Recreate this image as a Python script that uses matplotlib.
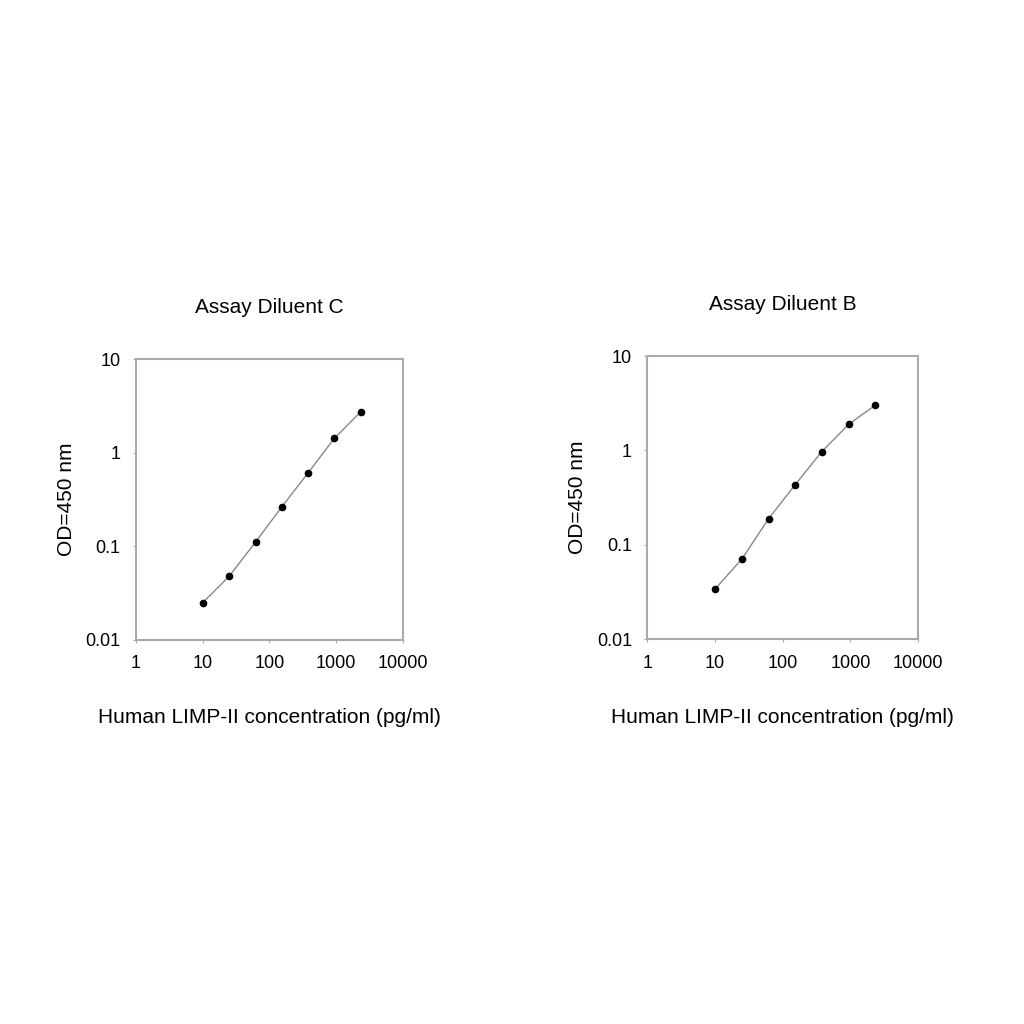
import matplotlib.pyplot as plt

plt.rcParams['font.family'] = ['Liberation Sans', 'DejaVu Sans']

# concentrations (pg/ml) shared by both standard curves
conc = [10, 25, 62, 153, 375, 940, 2340]

# OD 450 nm readings
od_diluent_c = [0.025, 0.048, 0.111, 0.263, 0.60, 1.42, 2.73]
od_diluent_b = [0.034, 0.071, 0.19, 0.434, 0.97, 1.89, 3.03]

titles = ['Assay Diluent C', 'Assay Diluent B']
xlabel = 'Human LIMP-II concentration (pg/ml)'
ylabel = 'OD=450 nm'
xticks = [1, 10, 100, 1000, 10000]
yticks = [0.01, 0.1, 1, 10]

fig = plt.figure(figsize=(10.24, 10.24), dpi=100)
boxes = [[0.1328, 0.375, 0.2605, 0.2744],
         [0.6321, 0.3757, 0.2646, 0.2766]]

for box, title, od in zip(boxes, titles, [od_diluent_c, od_diluent_b]):
    ax = fig.add_axes(box)
    ax.set_xscale('log')
    ax.set_yscale('log')
    ax.plot(conc, od, color='#888888', lw=1.0, zorder=2)
    ax.plot(conc, od, 'o', color='black', ms=4.5, zorder=3)
    ax.set_xlim(1, 10000)
    ax.set_ylim(0.01, 10)
    ax.set_xticks(xticks)
    ax.set_xticklabels([f'{t:g}' for t in xticks])
    ax.set_yticks(yticks)
    ax.set_yticklabels([f'{t:g}' for t in yticks])
    ax.minorticks_off()
    for s in ax.spines.values():
        s.set_color('#aaaaaa')
        s.set_linewidth(1.5)
    ax.tick_params(length=2, color='#aaaaaa', labelsize=13, pad=9)
    ax.set_title(title, fontsize=15, pad=33)
    ax.set_xlabel(xlabel, fontsize=15, labelpad=26)
    ax.set_ylabel(ylabel, fontsize=15, labelpad=7)

fig.savefig('out.png', dpi=100, facecolor='white')
